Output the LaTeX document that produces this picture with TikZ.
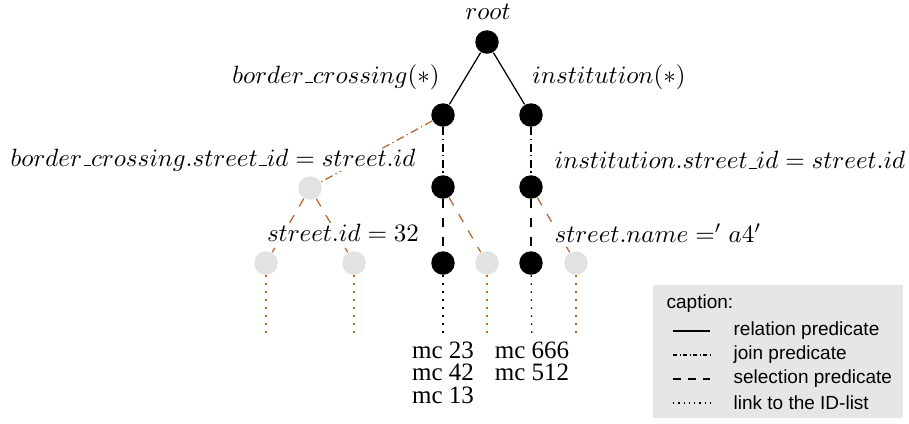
\documentclass[tikz,border=0pt]{standalone}
\usepackage{fontspec}
\newfontfamily\mcfont{Liberation Serif}
\newfontfamily\capfont{Liberation Sans}
\usetikzlibrary{positioning}
\usetikzlibrary{calc}
\definecolor{predbrown}{RGB}{185,100,45}
\definecolor{nodegray}{RGB}{226,226,226}
\definecolor{capgray}{RGB}{230,230,230}
\newcommand{\lowbar}{\mbox{\kern.06em\vbox{\hrule width.3em}}}

\begin{document}
\begin{tikzpicture}[x=0.4pt,y=-0.4pt,line width=0.5pt,
  every node/.style={inner sep=1pt},
  black node/.style={circle,fill=black,minimum size=9.4pt,inner sep=0pt},
  gray node/.style={circle,fill=nodegray,minimum size=9.4pt,inner sep=0pt},
  relline/.style={draw=black},
  joinline/.style={dash pattern=on 3.2pt off 1.4pt on 0.5pt off 1.4pt},
  selline/.style={dash pattern=on 3.6pt off 4pt},
  linkline/.style={dash pattern=on 0.6pt off 2.6pt},
  lbl/.style={fill=white,inner sep=0pt},
  mclist/.style={font=\mcfont\fontsize{10}{9}\selectfont,align=center,anchor=north,inner sep=2pt}]
\useasboundingbox (0,0) rectangle (909,423);
% tree
\node[black node] (root) at (487,42) {};
\node[black node] (bc) at (443,115) {};
\node[black node] (inst) at (531,115) {};
\node[gray node] (gj) at (310,188) {};
\node[black node] (bj) at (443,187) {};
\node[black node] (ij) at (531,187) {};
\node[gray node] (g1) at (266,263) {};
\node[gray node] (g2) at (354,263) {};
\node[black node] (b3) at (443,263) {};
\node[gray node] (g3) at (487,263) {};
\node[black node] (i3) at (531,263) {};
\node[gray node] (g4) at (576,263) {};
\coordinate (e1) at (266,335);
\coordinate (e2) at (354,335);
\coordinate (e3) at (487,335);
\coordinate (e4) at (576,335);
\node[mclist] (l1) at (443,336) {mc 23\\mc 42\\mc 13};
\node[mclist] (l2) at (532,336) {mc 666\\mc 512};
\draw [relline] (root) -- (bc);
\draw [relline] (root) -- (inst);
\draw [joinline,predbrown] (bc) -- (gj);
\draw [joinline] (bc) -- (bj);
\draw [joinline] (inst) -- (ij);
\draw [selline,predbrown] (gj) -- (g1);
\draw [selline,predbrown] (gj) -- (g2);
\draw [selline] (bj) -- (b3);
\draw [selline,predbrown] (bj) -- (g3);
\draw [selline] (ij) -- (i3);
\draw [selline,predbrown] (ij) -- (g4);
\draw [linkline,predbrown] (g1) -- (e1);
\draw [linkline,predbrown] (g2) -- (e2);
\draw [linkline] (b3) -- (l1);
\draw [linkline,predbrown] (g3) -- (e3);
\draw [linkline] (i3) -- (l2);
\draw [linkline,predbrown] (g4) -- (e4);
% labels
\node (rootlbl) at (488,12) {$root$};
\node (bclbl) at (336,77) {$border\lowbar crossing(*)$};
\node (instlbl) at (609,77) {$institution(*)$};
\node[lbl] (bcjlbl) at (213,160) {$border\lowbar crossing.street\lowbar id = street.id$};
\node[lbl] (ijlbl) at (730,160) {$institution.street\lowbar id = street.id$};
\node[lbl] (sidlbl) at (343,233) {$street.id = 32$};
\node[lbl] (snamelbl) at (658,233) {$street.name ='a4'$};
% caption
\fill[capgray] (653,285) rectangle (903,418);
\begin{scope}[every node/.style={font=\capfont\fontsize{7.6}{9}\selectfont,anchor=west,inner sep=0pt}]
\node (cap) at (666,304) {caption:};
\node (crel) at (733,331) {relation predicate};
\node (cjoin) at (733,355) {join predicate};
\node (csel) at (733,379) {selection predicate};
\node (clink) at (733,403) {link to the ID-list};
\end{scope}
\draw [relline] (673,331) -- (710,331);
\draw [dash pattern=on 1.6pt off 1pt on 0.4pt off 1pt] (673,355) -- (710,355);
\draw [dash pattern=on 3.2pt off 2.8pt] (673,379) -- (710,379);
\draw [dash pattern=on 0.5pt off 1.6pt] (673,403) -- (710,403);
\end{tikzpicture}
\end{document}
